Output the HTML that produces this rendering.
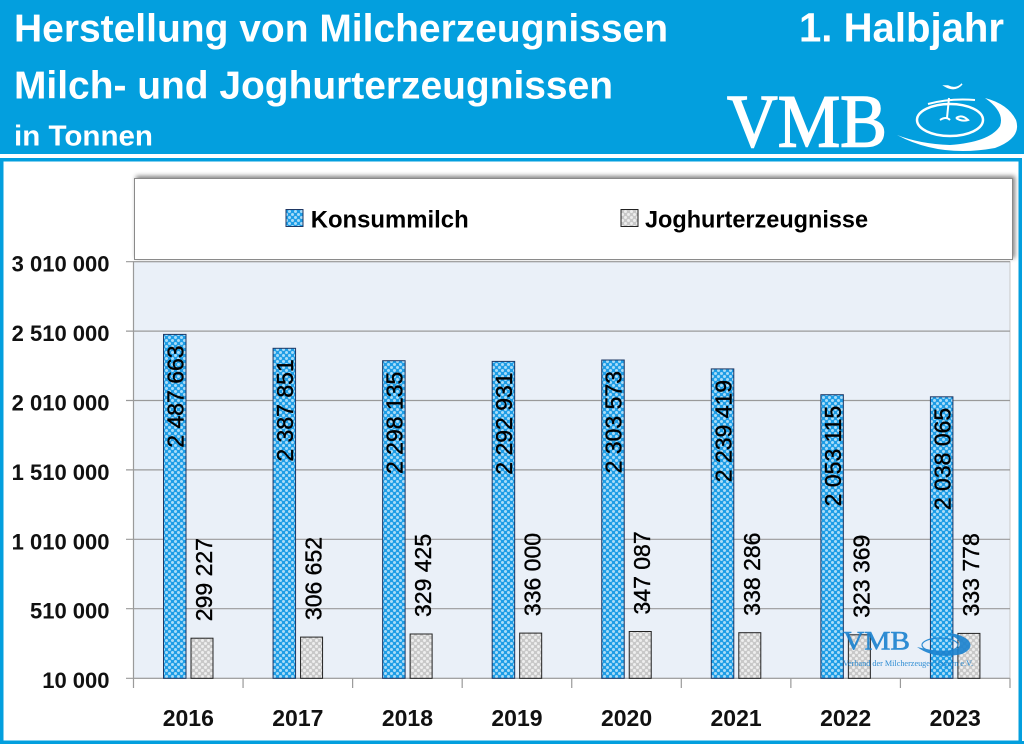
<!DOCTYPE html>
<html><head><meta charset="utf-8"><style>
html,body{margin:0;padding:0;background:#fff;overflow:hidden;}
svg{display:block;}
text{font-family:"Liberation Sans",Arial,sans-serif;}
</style></head><body>
<svg width="1024" height="744" viewBox="0 0 1024 744" xmlns="http://www.w3.org/2000/svg">
<defs>
<pattern id="pb" width="6" height="6" patternUnits="userSpaceOnUse">
<rect width="6" height="6" fill="#1e9de6"/>
<circle cx="1.5" cy="1.5" r="1.5" fill="#a9dcf8"/>
<circle cx="4.5" cy="4.5" r="1.5" fill="#a9dcf8"/>
</pattern>
<pattern id="pg" width="6" height="6" patternUnits="userSpaceOnUse">
<rect width="6" height="6" fill="#c8c8c8"/>
<circle cx="1.5" cy="1.5" r="1.5" fill="#eeeeee"/>
<circle cx="4.5" cy="4.5" r="1.5" fill="#eeeeee"/>
</pattern>
<filter id="sh" x="-5%" y="-20%" width="110%" height="140%">
<feGaussianBlur in="SourceAlpha" stdDeviation="2.5"/>
<feOffset dx="2" dy="-2" result="o"/>
<feComponentTransfer><feFuncA type="linear" slope="0.5"/></feComponentTransfer>
<feMerge><feMergeNode/><feMergeNode in="SourceGraphic"/></feMerge>
</filter>
</defs>

<!-- header -->
<rect x="0" y="0" width="1024" height="154" fill="#039fde"/>
<text x="14" y="41.7" font-size="39" font-weight="bold" fill="#fff" textLength="654" lengthAdjust="spacingAndGlyphs">Herstellung von Milcherzeugnissen</text>
<text x="14" y="98.3" font-size="39" font-weight="bold" fill="#fff" textLength="599" lengthAdjust="spacingAndGlyphs">Milch- und Joghurterzeugnissen</text>
<text x="14" y="145.7" font-size="29" font-weight="bold" fill="#fff" textLength="139" lengthAdjust="spacingAndGlyphs">in Tonnen</text>
<text x="799" y="41.7" font-size="41" font-weight="bold" fill="#fff" textLength="205" lengthAdjust="spacingAndGlyphs">1. Halbjahr</text>
<text x="727" y="146.7" font-size="75" fill="#fff" stroke="#fff" stroke-width="1.5" style="font-family:'Liberation Serif',serif" textLength="160" lengthAdjust="spacingAndGlyphs">VMB</text>
<!-- header swirl -->
<path d="M897 135 Q940 158 995 148 Q1022 138 1016 120 Q1008 104 985 98 Q1005 112 1000 126 Q990 142 950 145 Q920 144 897 135 Z" fill="#fff"/>
<ellipse cx="950" cy="120" rx="33" ry="16" fill="none" stroke="#fff" stroke-width="2.5"/>
<path d="M928 104 Q950 98 975 100" fill="none" stroke="#fff" stroke-width="2"/>
<path d="M945 86 Q955 92 962 84 Q956 90 948 86 Z" fill="#fff" stroke="#fff" stroke-width="1.5"/>
<path d="M949 98 L947 118 M940 120 Q946 116 950 120 M956 118 Q962 114 968 120 Q962 122 956 118" fill="none" stroke="#fff" stroke-width="2"/>

<!-- outer frame -->
<rect x="0" y="154" width="1024" height="4" fill="#fff"/>
<rect x="1.75" y="159.75" width="1018.5" height="582.5" fill="none" stroke="#039fde" stroke-width="3.5"/>
<rect x="0" y="741" width="1024" height="3" fill="#039fde"/>

<!-- legend -->
<rect x="134.5" y="178.5" width="878" height="81" fill="#fff" stroke="#8a8a8a" stroke-width="1" filter="url(#sh)"/>
<rect x="286" y="209.5" width="17" height="17" fill="url(#pb)" stroke="#1f3864" stroke-width="1"/>
<text x="310.7" y="227.3" font-size="24" font-weight="bold" fill="#000" textLength="158" lengthAdjust="spacingAndGlyphs">Konsummilch</text>
<rect x="621" y="209.5" width="17" height="17" fill="url(#pg)" stroke="#222" stroke-width="1"/>
<text x="645" y="227.3" font-size="24" font-weight="bold" fill="#000" textLength="223" lengthAdjust="spacingAndGlyphs">Joghurterzeugnisse</text>

<!-- plot area -->
<rect x="133.5" y="261.7" width="876.5" height="416.6" fill="#eaf0f8" stroke="#c8c8c8" stroke-width="1"/>
<g stroke="#9a9a9a" stroke-width="1.2">
<line x1="126" y1="261.7" x2="1010" y2="261.7"/>
<line x1="126" y1="331.1" x2="1010" y2="331.1"/>
<line x1="126" y1="400.5" x2="1010" y2="400.5"/>
<line x1="126" y1="469.9" x2="1010" y2="469.9"/>
<line x1="126" y1="539.3" x2="1010" y2="539.3"/>
<line x1="126" y1="608.7" x2="1010" y2="608.7"/>
<line x1="126" y1="678.3" x2="1010" y2="678.3"/>
<line x1="133.5" y1="261.7" x2="133.5" y2="688"/>
<line x1="243.06" y1="678.3" x2="243.06" y2="688"/>
<line x1="352.62" y1="678.3" x2="352.62" y2="688"/>
<line x1="462.18" y1="678.3" x2="462.18" y2="688"/>
<line x1="571.74" y1="678.3" x2="571.74" y2="688"/>
<line x1="681.3" y1="678.3" x2="681.3" y2="688"/>
<line x1="790.86" y1="678.3" x2="790.86" y2="688"/>
<line x1="900.42" y1="678.3" x2="900.42" y2="688"/>
<line x1="1010" y1="678.3" x2="1010" y2="688"/>
</g>

<!-- y labels -->
<g font-size="22" font-weight="bold" fill="#111" text-anchor="end">
<text x="109.5" y="271.7">3 010 000</text>
<text x="109.5" y="341.1">2 510 000</text>
<text x="109.5" y="410.5">2 010 000</text>
<text x="109.5" y="479.9">1 510 000</text>
<text x="109.5" y="549.3">1 010 000</text>
<text x="109.5" y="618.7">510 000</text>
<text x="109.5" y="688.1">10 000</text>
</g>

<!-- bars -->
<g stroke="#1f3864" stroke-width="1" fill="url(#pb)">
<rect x="163.5" y="334.4" width="22.5" height="343.9"/>
<rect x="273.06" y="348.3" width="22.5" height="330"/>
<rect x="382.62" y="360.7" width="22.5" height="317.6"/>
<rect x="492.18" y="361.4" width="22.5" height="316.9"/>
<rect x="601.74" y="360.0" width="22.5" height="318.3"/>
<rect x="711.3" y="368.9" width="22.5" height="309.4"/>
<rect x="820.86" y="394.7" width="22.5" height="283.6"/>
<rect x="930.42" y="396.8" width="22.5" height="281.5"/>
</g>
<g stroke="#222" stroke-width="1" fill="url(#pg)">
<rect x="191" y="638.2" width="22" height="40.1"/>
<rect x="300.56" y="637.1" width="22" height="41.2"/>
<rect x="410.12" y="634.0" width="22" height="44.3"/>
<rect x="519.68" y="633.1" width="22" height="45.2"/>
<rect x="629.24" y="631.5" width="22" height="46.8"/>
<rect x="738.8" y="632.7" width="22" height="45.6"/>
<rect x="848.36" y="634.8" width="22" height="43.5"/>
<rect x="957.92" y="633.4" width="22" height="44.9"/>
</g>

<!-- data labels -->
<g font-size="23" fill="#000" stroke="#000" stroke-width="0.4" text-anchor="end">
<text transform="translate(183.5 345.4) rotate(-90)">2 487 663</text>
<text transform="translate(293.06 359.3) rotate(-90)">2 387 851</text>
<text transform="translate(402.62 371.7) rotate(-90)">2 298 135</text>
<text transform="translate(512.18 372.4) rotate(-90)">2 292 931</text>
<text transform="translate(621.74 371.0) rotate(-90)">2 303 573</text>
<text transform="translate(731.3 379.9) rotate(-90)">2 239 419</text>
<text transform="translate(840.86 405.7) rotate(-90)">2 053 115</text>
<text transform="translate(950.42 407.8) rotate(-90)">2 038 065</text>
</g>
<g font-size="23" fill="#000" stroke="#000" stroke-width="0.4" text-anchor="start">
<text transform="translate(212 621.2) rotate(-90)">299 227</text>
<text transform="translate(321.56 620.1) rotate(-90)">306 652</text>
<text transform="translate(431.12 617.0) rotate(-90)">329 425</text>
<text transform="translate(540.68 616.1) rotate(-90)">336 000</text>
<text transform="translate(650.24 614.5) rotate(-90)">347 087</text>
<text transform="translate(759.8 615.7) rotate(-90)">338 286</text>
<text transform="translate(869.36 617.8) rotate(-90)">323 369</text>
<text transform="translate(978.92 616.4) rotate(-90)">333 778</text>
</g>

<!-- x labels -->
<g font-size="23" font-weight="bold" fill="#111" text-anchor="middle">
<text x="188.3" y="726">2016</text>
<text x="297.86" y="726">2017</text>
<text x="407.42" y="726">2018</text>
<text x="516.98" y="726">2019</text>
<text x="626.54" y="726">2020</text>
<text x="736.1" y="726">2021</text>
<text x="845.66" y="726">2022</text>
<text x="955.22" y="726">2023</text>
</g>

<!-- watermark -->
<g opacity="0.9" fill="#1a82cf">
<text x="843" y="649.5" font-size="26" stroke="#1a82cf" stroke-width="0.6" style="font-family:'Liberation Serif',serif" textLength="67" lengthAdjust="spacingAndGlyphs">VMB</text>
<path d="M917 647 Q935 660 962 654 Q975 648 968 640 Q960 633 945 633 Q965 640 958 648 Q945 654 917 647 Z"/>
<ellipse cx="940" cy="645" rx="18" ry="7" fill="none" stroke="#1a82cf" stroke-width="1.2"/>
<text x="843" y="666" font-size="8" style="font-family:'Liberation Serif',serif" textLength="130" lengthAdjust="spacingAndGlyphs">Verband der Milcherzeuger Bayern e.V.</text>
</g>
</svg>
</body></html>
